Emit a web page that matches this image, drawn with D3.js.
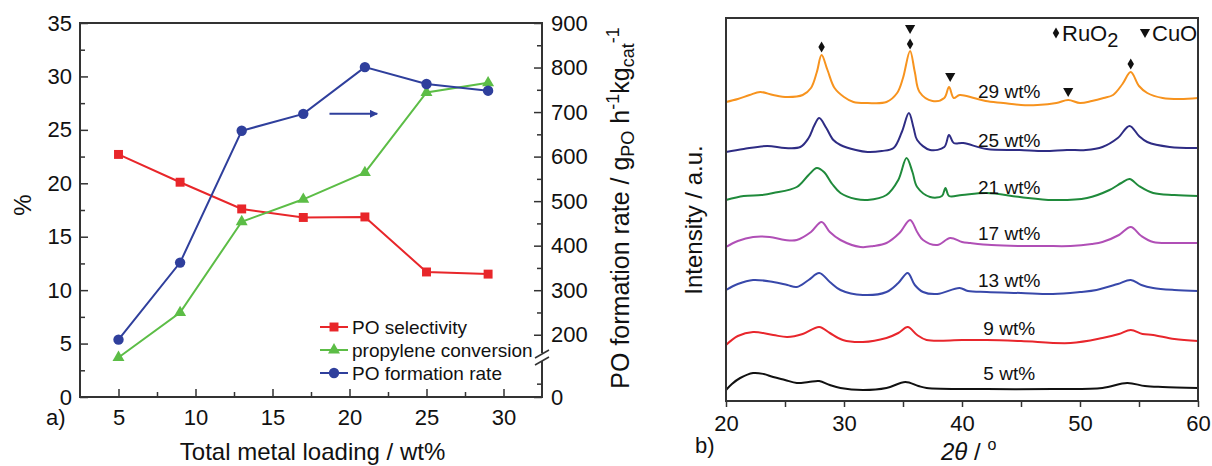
<!DOCTYPE html>
<html>
<head>
<meta charset="utf-8">
<script src="https://cdn.jsdelivr.net/npm/d3@7"></script>
<style>
  body { margin: 0; background: #fff; }
  text { font-family: "Liberation Sans", Arial, sans-serif; fill: #111; }
</style>
</head>
<body>
<svg id="chart" width="1212" height="466"></svg>
<script>
// ---- panel a data ----
const loading = [5, 9, 13, 17, 21, 25, 29];
const poSelectivity = [22.7, 20.1, 17.6, 16.8, 16.85, 11.7, 11.5];
const propyleneConversion = [3.7, 7.9, 16.4, 18.5, 21.0, 28.5, 29.4];
const poFormationRate = [189, 362, 658, 696, 801, 763, 748];

// ---- panel b data: [2theta, intensity] (patterns already stacked) ----
const xrd29 = [[20,299],[21,302],[22,306],[22.9,309],[24,306],[25.2,304],[26.5,306],[27.2,313],[27.7,329],[28.1,346],[28.6,331],[29.2,313],[30,304],[30.8,299],[32,298],[33.6,299],[34.5,308],[35,323],[35.6,350],[36,329],[36.4,309],[37.5,300],[38.5,303],[38.9,314],[39.3,303],[39.8,306],[41,303],[42,300],[43.5,298],[45,296],[46.4,296],[48,298],[49,301],[50,298],[51,300],[52,303],[52.8,306],[53.6,317],[54.3,329],[55,315],[55.7,308],[57,303],[58.5,302],[60,303]];
const xrd25 = [[20,249],[21.5,252],[23.5,255],[25,253],[26.3,254],[27,263],[27.5,276],[27.9,283],[28.5,273],[29.1,261],[29.7,256],[31,251],[32,249],[33.2,250],[34.2,253],[34.9,269],[35.5,288],[35.9,273],[36.2,261],[37.3,251],[38.5,254],[38.9,266],[39.3,258],[40.1,258],[42.1,252],[44.9,251],[47,250],[48.9,251],[50.5,251],[51.9,254],[53.2,263],[54.2,275],[55,265],[55.7,259],[57.6,254],[60,253]];
const xrd21 = [[20,201],[21.5,205],[23,206],[24,208],[26,214],[27,226],[27.7,233],[28.3,229],[29,217],[29.7,208],[31,202],[32,201],[33.6,206],[34.6,221],[35.3,243],[35.8,229],[36.2,214],[37.3,204],[38.3,205],[38.6,213],[38.9,205],[40,206],[42.1,208],[44.9,204],[47.7,201],[50.6,203],[52.5,211],[53.5,218],[54.2,222],[55,215],[56.2,208],[58,206],[60,205]];
const xrd17 = [[20,154],[21,160],[22.3,164],[23.7,164],[25,161],[26,161],[27.2,169],[28.1,179],[28.8,169],[29.7,161],[31.4,154],[32.5,155],[33.6,158],[34.7,168],[35.6,181],[36.2,169],[36.7,161],[37.9,156],[39,163],[40,159],[40.7,158],[42.5,156],[44.9,155],[47,155],[49.2,155],[51,157],[51.9,159],[53.3,166],[54.3,174],[55.2,165],[56.2,159],[58,158],[60,158]];
const xrd13 = [[20,111],[21,117],[22.3,121],[24,119],[25.2,116],[26,114],[27,121],[27.9,128],[28.8,119],[29.7,111],[31.6,106],[33.6,109],[34.6,118],[35.4,128],[36,116],[36.7,109],[37.9,107],[39.8,113],[40.5,110],[42.1,109],[45,108],[47.7,107],[50,109],[51.4,111],[53.2,117],[54.3,121],[55.2,116],[56.2,113],[58,111],[60,110]];
const xrd9 = [[20,56],[21,65],[22.3,69],[24,66],[25.2,64],[26.5,67],[27.9,74],[28.8,68],[29.9,61],[31.6,59],[33.6,63],[34.6,68],[35.4,74],[36.2,66],[37,61],[40,61],[42.1,61],[45,60],[49.2,58],[51.9,63],[53.3,67],[54.3,71],[55.3,67],[56.2,66],[58,62],[60,60]];
const xrd5 = [[20,11],[20.5,17],[21.2,23],[22.3,28],[23.2,27],[24,24],[25,21],[26,18],[27,19],[27.9,20],[28.8,16],[29.7,13],[31.6,11],[33.6,13],[35.2,19],[36.3,15],[37,13],[42.1,12],[47.7,12],[51.9,13],[54,18],[55.5,15],[57,14],[60,13]];
const xrdNames = ["29 wt%", "25 wt%", "21 wt%", "17 wt%", "13 wt%", "9 wt%", "5 wt%"];
const xrdLabelY = [303, 254, 207, 161, 114, 66, 21];
const ruo2Peaks = [[28.1, 354], [35.6, 357], [54.3, 337]];
const cuoPeaks = [[35.6, 373], [39.0, 325], [49.0, 310]];

const svg = d3.select("#chart");
svg.append("rect").attr("width", 1212).attr("height", 466).attr("fill", "#fff");
const axisColor = "#333";

// ================= panel a =================
const xA = d3.scaleLinear().domain([2.5, 32.5]).range([80, 542]);
const yA = d3.scaleLinear().domain([0, 35]).range([397, 23]);
const yR = d3.scaleLinear().domain([0, 150, 900]).range([397, 357, 23]);

function styleAxis(g, size) {
  g.select(".domain").remove();
  g.selectAll("line").attr("stroke", axisColor).attr("stroke-width", 1.5);
  g.selectAll("text").attr("font-size", size).attr("fill", "#111")
    .attr("font-family", "Liberation Sans, Arial, sans-serif");
}

// minor ticks
svg.append("g").attr("transform", "translate(0,397)")
  .call(d3.axisBottom(xA).tickValues(d3.range(7.5, 32.5, 5)).tickSize(-5).tickFormat(""))
  .call(g => styleAxis(g, 22));
svg.append("g").attr("transform", "translate(80,0)")
  .call(d3.axisLeft(yA).tickValues(d3.range(2.5, 35, 5)).tickSize(-5).tickFormat(""))
  .call(g => styleAxis(g, 22));
svg.append("g").attr("transform", "translate(542,0)")
  .call(d3.axisRight(yR).tickValues([50, 250, 350, 450, 550, 650, 750, 850]).tickSize(-5).tickFormat(""))
  .call(g => styleAxis(g, 22));

// major ticks
svg.append("g").attr("transform", "translate(0,397)")
  .call(d3.axisBottom(xA).tickValues([5, 10, 15, 20, 25, 30]).tickSize(-8).tickPadding(12))
  .call(g => styleAxis(g, 22));
svg.append("g").attr("transform", "translate(80,0)")
  .call(d3.axisLeft(yA).tickValues(d3.range(0, 36, 5)).tickSize(-8).tickPadding(8))
  .call(g => styleAxis(g, 22));
svg.append("g").attr("transform", "translate(542,0)")
  .call(d3.axisRight(yR).tickValues([0, 200, 300, 400, 500, 600, 700, 800, 900]).tickSize(-8).tickPadding(9))
  .call(g => styleAxis(g, 22));

svg.append("rect")
  .attr("x", 80).attr("y", 23).attr("width", 462).attr("height", 374)
  .attr("fill", "none").attr("stroke", axisColor).attr("stroke-width", 2);

// axis break on the right axis
svg.append("rect").attr("x", 538).attr("y", 353).attr("width", 8).attr("height", 8).attr("fill", "#fff");
svg.append("line").attr("x1", 535).attr("y1", 358).attr("x2", 549).attr("y2", 350)
  .attr("stroke", axisColor).attr("stroke-width", 1.5);
svg.append("line").attr("x1", 535).attr("y1", 365).attr("x2", 549).attr("y2", 357)
  .attr("stroke", axisColor).attr("stroke-width", 1.5);

const seriesA = [
  { name: "PO selectivity", values: poSelectivity, y: yA, color: "#e8262a", symbol: d3.symbolSquare, size: 80 },
  { name: "propylene conversion", values: propyleneConversion, y: yA, color: "#5cbd46", symbol: d3.symbolTriangle, size: 62 },
  { name: "PO formation rate", values: poFormationRate, y: yR, color: "#2f3f9c", symbol: d3.symbolCircle, size: 85 }
];

seriesA.forEach(s => {
  const pts = loading.map((x, i) => [x, s.values[i]]);
  svg.append("path")
    .datum(pts)
    .attr("fill", "none")
    .attr("stroke", s.color)
    .attr("stroke-width", 2)
    .attr("d", d3.line().x(d => xA(d[0])).y(d => s.y(d[1])));
  svg.append("g").selectAll("path")
    .data(pts)
    .join("path")
      .attr("transform", d => `translate(${xA(d[0])},${s.y(d[1])})`)
      .attr("d", d3.symbol(s.symbol, s.size))
      .attr("fill", s.color);
});

// arrow pointing to the right axis
svg.append("defs").append("marker")
  .attr("id", "arrowhead").attr("viewBox", "0 0 10 10").attr("refX", 9).attr("refY", 5)
  .attr("markerWidth", 5).attr("markerHeight", 4).attr("orient", "auto")
  .append("path").attr("d", "M0,0L10,5L0,10Z").attr("fill", "#2f3f9c");
svg.append("line")
  .attr("x1", xA(18.7)).attr("x2", xA(21.8)).attr("y1", yA(26.5)).attr("y2", yA(26.5))
  .attr("stroke", "#2f3f9c").attr("stroke-width", 2).attr("marker-end", "url(#arrowhead)");

// legend
const legend = svg.append("g").attr("transform", "translate(320,327)");
seriesA.forEach((s, i) => {
  const row = legend.append("g").attr("transform", `translate(0,${i * 23})`);
  row.append("line").attr("x1", 0).attr("x2", 28).attr("stroke", s.color).attr("stroke-width", 2);
  row.append("path").attr("transform", "translate(14,0)").attr("d", d3.symbol(s.symbol, s.size)).attr("fill", s.color);
  row.append("text").attr("x", 32).attr("y", 6.5).attr("font-size", 19).text(s.name);
});

// labels panel a
svg.append("text").attr("x", 46).attr("y", 425).attr("font-size", 22).text("a)");
svg.append("text").attr("x", xA(17.6)).attr("y", 460).attr("text-anchor", "middle")
  .attr("font-size", 24).text("Total metal loading / wt%");
svg.append("text").attr("transform", "translate(31,205) rotate(-90)").attr("text-anchor", "middle")
  .attr("font-size", 24).text("%");

const rTitle = svg.append("text").attr("transform", "translate(629,208) rotate(-90)")
  .attr("text-anchor", "middle").attr("font-size", 25);
rTitle.append("tspan").text("PO formation rate / g");
rTitle.append("tspan").attr("font-size", 18).attr("dy", 5).text("PO");
rTitle.append("tspan").attr("dy", -5).text(" h");
rTitle.append("tspan").attr("font-size", 18).attr("dy", -10).text("-1");
rTitle.append("tspan").attr("dy", 10).text("kg");
rTitle.append("tspan").attr("font-size", 18).attr("dy", 5).text("cat");
rTitle.append("tspan").attr("font-size", 18).attr("dy", -15).text("-1");

// ================= panel b =================
const xB = d3.scaleLinear().domain([20, 60]).range([726, 1198]);
const yB = d3.scaleLinear().domain([0, 383]).range([401, 18]);

svg.append("g").attr("transform", "translate(0,401)")
  .call(d3.axisBottom(xB).tickValues(d3.range(20, 61, 5)).tickSize(6).tickPadding(8)
    .tickFormat(d => d % 10 === 0 ? d : ""))
  .call(g => styleAxis(g, 22));

const xrdSeries = [
  { data: xrd29, color: "#f7931e" },
  { data: xrd25, color: "#2e2c84" },
  { data: xrd21, color: "#1f8a3b" },
  { data: xrd17, color: "#b04fb6" },
  { data: xrd13, color: "#3848aa" },
  { data: xrd9, color: "#e8262c" },
  { data: xrd5, color: "#111111" }
];

const xrdLine = d3.line().x(d => xB(d[0])).y(d => yB(d[1])).curve(d3.curveCatmullRom.alpha(0.5));
svg.append("g").selectAll("path")
  .data(xrdSeries)
  .join("path")
    .attr("fill", "none")
    .attr("stroke", d => d.color)
    .attr("stroke-width", 2)
    .attr("d", d => xrdLine(d.data));

svg.append("g").selectAll("text")
  .data(xrdNames)
  .join("text")
    .attr("x", xB(44))
    .attr("y", (d, i) => yB(xrdLabelY[i]))
    .attr("text-anchor", "middle")
    .attr("font-size", 19)
    .text(d => d);

svg.append("g").selectAll("path")
  .data(ruo2Peaks)
  .join("path")
    .attr("transform", d => `translate(${xB(d[0])},${yB(d[1])})`)
    .attr("d", d3.symbol(d3.symbolDiamond, 36))
    .attr("fill", "#111");
svg.append("g").selectAll("path")
  .data(cuoPeaks)
  .join("path")
    .attr("transform", d => `translate(${xB(d[0])},${yB(d[1])}) rotate(180)`)
    .attr("d", d3.symbol(d3.symbolTriangle, 45))
    .attr("fill", "#111");

svg.append("rect")
  .attr("x", 726).attr("y", 18).attr("width", 472).attr("height", 383)
  .attr("fill", "none").attr("stroke", axisColor).attr("stroke-width", 2);

// phase legend
svg.append("path").attr("transform", "translate(1056,33)").attr("d", d3.symbol(d3.symbolDiamond, 36)).attr("fill", "#111");
const ruText = svg.append("text").attr("x", 1062).attr("y", 41).attr("font-size", 22);
ruText.append("tspan").text("RuO");
ruText.append("tspan").attr("dy", 6).attr("font-size", 20).text("2");
svg.append("path").attr("transform", "translate(1145,32) rotate(180)").attr("d", d3.symbol(d3.symbolTriangle, 45)).attr("fill", "#111");
svg.append("text").attr("x", 1152).attr("y", 41).attr("font-size", 22).text("CuO");

// labels panel b
svg.append("text").attr("x", 695).attr("y", 453).attr("font-size", 22).text("b)");
svg.append("text").attr("transform", "translate(702,220) rotate(-90)").attr("text-anchor", "middle")
  .attr("font-size", 24).text("Intensity / a.u.");
const tTitle = svg.append("text").attr("x", 941).attr("y", 460).attr("font-size", 24)
  .attr("font-family", "Liberation Serif, Times New Roman, serif");
tTitle.append("tspan").attr("font-style", "italic").text("2θ");
tTitle.append("tspan").text(" / ");
tTitle.append("tspan").attr("font-size", 16).attr("dy", -10).text("o");
</script>
</body>
</html>
